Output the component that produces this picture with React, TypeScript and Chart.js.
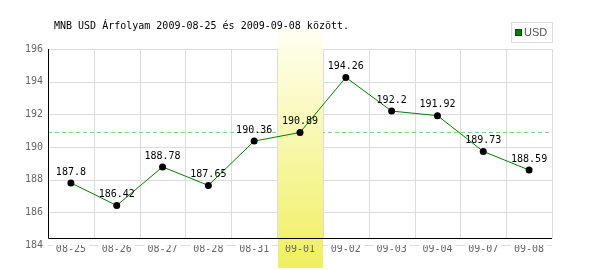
import React, { useEffect, useRef } from "react";
import { Chart, registerables } from "chart.js";

Chart.register(...registerables);

const titleText = "MNB USD Árfolyam 2009-08-25 és 2009-09-08 között.";
const seriesName = "USD";
const categories = ["08-25", "08-26", "08-27", "08-28", "08-31", "09-01", "09-02", "09-03", "09-04", "09-07", "09-08"];
const usdValues = [187.8, 186.42, 188.78, 187.65, 190.36, 190.89, 194.26, 192.2, 191.92, 189.73, 188.59];
const highlightIndex = 5;
const referenceValue = 190.89;
const yMin = 184;
const yMax = 196;
const yStep = 2;

const MONO = "'DejaVu Sans Mono', monospace";

const decorPlugin = {
  id: "decor",
  beforeDraw(chart: any) {
    const { ctx, chartArea, scales } = chart;
    const x = scales.x;
    const y = scales.y;
    const { left, right, top, bottom } = chartArea;
    const axisY = bottom - 7;
    ctx.save();
    ctx.fillStyle = "#fff";
    ctx.fillRect(0, 0, chart.width, chart.height);
    // horizontal grid lines
    ctx.strokeStyle = "#dcdcdc";
    ctx.lineWidth = 1;
    for (let v = yMin; v <= yMax; v += yStep) {
      const py = Math.round(y.getPixelForValue(v)) + 0.5;
      ctx.beginPath();
      ctx.moveTo(left, py);
      ctx.lineTo(right, py);
      ctx.stroke();
    }
    // vertical grid lines at category boundaries
    const n = categories.length;
    const half = (x.getPixelForValue(1) - x.getPixelForValue(0)) / 2;
    for (let i = 0; i <= n; i++) {
      const px = Math.round(x.getPixelForValue(Math.min(i, n - 1)) + (i === n ? half : -half)) + 0.5;
      ctx.beginPath();
      ctx.moveTo(px, top);
      ctx.lineTo(px, axisY);
      ctx.stroke();
    }
    // reference dashed line
    const ry = Math.round(y.getPixelForValue(referenceValue)) + 0.5;
    ctx.strokeStyle = "#88d088";
    ctx.setLineDash([4, 3]);
    ctx.beginPath();
    ctx.moveTo(left, ry);
    ctx.lineTo(right, ry);
    ctx.stroke();
    ctx.setLineDash([]);
    // highlight band
    const cx = x.getPixelForValue(highlightIndex);
    const bx0 = Math.round(cx - half) + 1;
    const bx1 = Math.round(cx + half);
    const grad = ctx.createLinearGradient(0, 30, 0, chart.height - 2);
    grad.addColorStop(0, "#fffff2");
    grad.addColorStop(1, "#f0ef60");
    ctx.fillStyle = grad;
    ctx.fillRect(bx0, 30, bx1 - bx0, chart.height - 2 - 30);
    // axes
    ctx.strokeStyle = "#000";
    ctx.beginPath();
    ctx.moveTo(Math.round(left) + 0.5, top);
    ctx.lineTo(Math.round(left) + 0.5, axisY + 0.5);
    ctx.lineTo(right, axisY + 0.5);
    ctx.stroke();
    ctx.restore();
  },
  afterDatasetsDraw(chart: any) {
    const { ctx } = chart;
    const meta = chart.getDatasetMeta(0);
    ctx.save();
    ctx.font = `10px ${MONO}`;
    ctx.fillStyle = "#000";
    ctx.textAlign = "center";
    ctx.textBaseline = "middle";
    meta.data.forEach((pt: any, i: number) => {
      ctx.fillText(String(usdValues[i]), pt.x, pt.y - 11);
    });
    ctx.restore();
  },
  afterDraw(chart: any) {
    const { ctx } = chart;
    ctx.save();
    ctx.font = `10px ${MONO}`;
    ctx.fillStyle = "#000";
    ctx.textAlign = "left";
    ctx.textBaseline = "middle";
    ctx.fillText(titleText, 54, 26);
    // legend box
    ctx.strokeStyle = "#dcdcdc";
    ctx.lineWidth = 1;
    ctx.strokeRect(511.5, 22.5, 41, 20);
    ctx.fillStyle = "#008000";
    ctx.fillRect(515, 29, 7, 7);
    ctx.strokeStyle = "#005000";
    ctx.strokeRect(515.5, 29.5, 6, 6);
    ctx.fillStyle = "#555";
    ctx.font = "11px 'Liberation Sans', sans-serif";
    ctx.fillText(seriesName, 524, 33);
    ctx.restore();
  },
};

export default function App() {
  const ref = useRef<HTMLCanvasElement | null>(null);
  useEffect(() => {
    document.body.style.margin = "0";
    if (!ref.current) return;
    const chart = new Chart(ref.current, {
      type: "line",
      data: {
        labels: categories,
        datasets: [
          {
            label: seriesName,
            data: usdValues,
            borderColor: "#008000",
            borderWidth: 1,
            pointRadius: 3.5,
            pointBackgroundColor: "#000",
            pointBorderColor: "#000",
            pointBorderWidth: 0,
            tension: 0,
            fill: false,
          },
        ],
      },
      options: {
        responsive: false,
        animation: false,
        layout: { padding: { top: 49, right: 48, left: 0, bottom: 0 } },
        plugins: { legend: { display: false }, title: { display: false }, tooltip: { enabled: false } },
        scales: {
          x: {
            type: "category",
            offset: true,
            grid: { display: false, drawTicks: false },
            border: { display: false },
            ticks: {
              color: "#666",
              font: { family: MONO, size: 10 },
              padding: -2,
              maxRotation: 0,
              autoSkip: false,
              showLabelBackdrop: true,
              backdropColor: (c: any) => (c.index === highlightIndex ? "rgba(0,0,0,0)" : "#fff"),
              backdropPadding: { top: 0, bottom: 0, left: 3, right: 3 },
            },
            afterFit: (s: any) => {
              s.height = 25;
            },
          },
          y: {
            min: yMin,
            max: yMax,
            grid: { display: false, drawTicks: false },
            border: { display: false },
            ticks: {
              stepSize: yStep,
              color: "#666",
              font: { family: MONO, size: 10 },
              padding: 5,
            },
            afterFit: (s: any) => {
              s.width = 48;
            },
          },
        },
      },
      plugins: [decorPlugin],
    });
    return () => chart.destroy();
  }, []);
  return (
    <div style={{ width: 600, height: 270 }}>
      <canvas ref={ref} width={600} height={270} style={{ display: "block" }} />
    </div>
  );
}
